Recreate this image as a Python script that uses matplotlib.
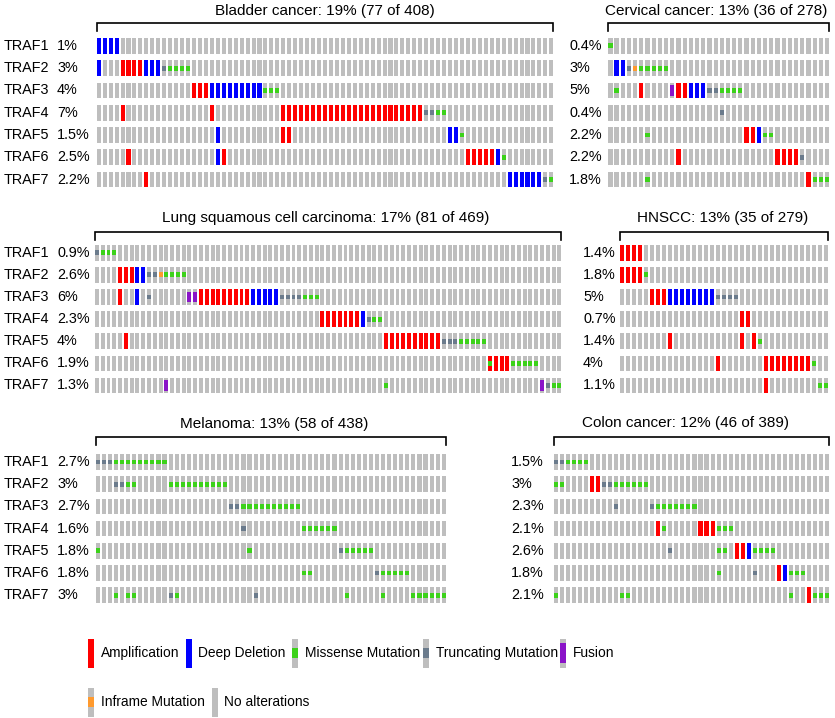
import numpy as np
import matplotlib.pyplot as plt
from matplotlib.patches import Rectangle

plt.rcParams['font.family'] = ['Liberation Sans', 'DejaVu Sans']

# figure size in pixels (dpi 100)
W, H = 835, 718

# --------------------------------------------------------------------------
# data: one list per panel, one entry per gene, runs of (first column, codes)
# codes: A amplification, D deep deletion, M missense, T truncating,
#        F fusion, I inframe, X amplification + missense
# --------------------------------------------------------------------------
genes = ['TRAF1', 'TRAF2', 'TRAF3', 'TRAF4', 'TRAF5', 'TRAF6', 'TRAF7']

bladder_title = 'Bladder cancer: 19% (77 of 408)'
bladder_n = 77
bladder_pct = ['1%', '3%', '4%', '7%', '1.5%', '2.5%', '2.2%']
bladder_alt = [
    [(0, 'DDDD')],
    [(0, 'D'), (4, 'AAAADDDTMMMM')],
    [(16, 'AAA' + 'D' * 9 + 'MMM')],
    [(4, 'A'), (19, 'A'), (31, 'A' * 24 + 'TTMM')],
    [(20, 'D'), (31, 'AA'), (59, 'DDM')],
    [(5, 'A'), (20, 'DA'), (62, 'AAAAADM')],
    [(8, 'A'), (69, 'DDDDDDTM')],
]

cervical_title = 'Cervical cancer: 13% (36 of 278)'
cervical_n = 36
cervical_pct = ['0.4%', '3%', '5%', '0.4%', '2.2%', '2.2%', '1.8%']
cervical_alt = [
    [(0, 'M')],
    [(1, 'DDTIMMMMM')],
    [(1, 'M'), (5, 'A'), (10, 'FAADDDTTMMMM')],
    [(18, 'T')],
    [(6, 'M'), (22, 'AADMM')],
    [(11, 'A'), (27, 'AAAAT')],
    [(6, 'M'), (32, 'AMMM')],
]

lung_title = 'Lung squamous cell carcinoma: 17% (81 of 469)'
lung_n = 81
lung_pct = ['0.9%', '2.6%', '6%', '2.3%', '4%', '1.9%', '1.3%']
lung_alt = [
    [(0, 'TMMM')],
    [(4, 'AAADDTTIMMMM')],
    [(4, 'A'), (7, 'D'), (9, 'T'), (16, 'FF' + 'A' * 9 + 'D' * 5 + 'TTTT' + 'MMM')],
    [(39, 'A' * 7 + 'DTMM')],
    [(5, 'A'), (50, 'A' * 10 + 'TTT' + 'M' * 5)],
    [(68, 'XAAA' + 'M' * 5)],
    [(12, 'F'), (50, 'M'), (77, 'FTMM')],
]

hnscc_title = 'HNSCC: 13% (35 of 279)'
hnscc_n = 35
hnscc_pct = ['1.4%', '1.8%', '5%', '0.7%', '1.4%', '4%', '1.1%']
hnscc_alt = [
    [(0, 'AAAA')],
    [(0, 'AAAAM')],
    [(5, 'AAA' + 'D' * 8 + 'TTTT')],
    [(20, 'AA')],
    [(8, 'A'), (20, 'A'), (22, 'AM')],
    [(16, 'A'), (24, 'A' * 8 + 'M')],
    [(24, 'A'), (33, 'MM')],
]

melanoma_title = 'Melanoma: 13% (58 of 438)'
melanoma_n = 58
melanoma_pct = ['2.7%', '3%', '2.7%', '1.6%', '1.8%', '1.8%', '3%']
melanoma_alt = [
    [(0, 'TTT' + 'M' * 9)],
    [(3, 'TTMM'), (12, 'M' * 10)],
    [(22, 'TT' + 'M' * 10)],
    [(24, 'T'), (34, 'M' * 6)],
    [(0, 'M'), (25, 'M'), (40, 'T' + 'M' * 5)],
    [(34, 'MM'), (46, 'T' + 'M' * 5)],
    [(3, 'M'), (5, 'MM'), (12, 'TM'), (26, 'T'), (41, 'M'), (47, 'M'), (52, 'M' * 6)],
]

colon_title = 'Colon cancer: 12% (46 of 389)'
colon_n = 46
colon_pct = ['1.5%', '3%', '2.3%', '2.1%', '2.6%', '1.8%', '2.1%']
colon_alt = [
    [(0, 'TTMMMM')],
    [(0, 'MM'), (6, 'AATT' + 'M' * 6)],
    [(10, 'T'), (16, 'T' + 'M' * 7)],
    [(17, 'AM'), (24, 'AAAMMM')],
    [(19, 'T'), (27, 'MM'), (30, 'AAD' + 'MMMM')],
    [(27, 'M'), (33, 'T'), (37, 'ADMMM')],
    [(0, 'M'), (11, 'MM'), (39, 'M'), (42, 'AMMM')],
]

legend_labels = ['Amplification', 'Deep Deletion', 'Missense Mutation',
                 'Truncating Mutation', 'Fusion', 'Inframe Mutation', 'No alterations']
legend_codes = ['A', 'D', 'M', 'T', 'F', 'I', '.']

# --------------------------------------------------------------------------
# style
# --------------------------------------------------------------------------
GRAY = '#BEBEBE'
full_color = {'A': '#FF0000', 'D': '#0000FF', 'X': '#FF0000'}
small_color = {'M': '#3CD21A', 'T': '#6B7B8C', 'I': '#FF9A2E', 'X': '#3CD21A'}
FUSION = '#8A14C8'

BW = 0.68      # bar width (fraction of column pitch)
BH = 0.70      # bar height (fraction of row pitch)
FS = 10.4

# panel geometry in pixels:
# first bar left edge, column pitch, TRAF1 row centre, row pitch,
# percent label x, show gene names, title centre x, title y, bracket y
panels = [
    (bladder_title, bladder_n, bladder_pct, bladder_alt, 96.7, 5.955, 45.8, 22.3, 57, True, 325, 11, 23),
    (cervical_title, cervical_n, cervical_pct, cervical_alt, 608.3, 6.19, 45.8, 22.3, 569, False, 716, 11, 23),
    (lung_title, lung_n, lung_pct, lung_alt, 95.0, 5.78, 252.8, 22.1, 57, True, 326, 218, 232),
    (hnscc_title, hnscc_n, hnscc_pct, hnscc_alt, 620.0, 6.01, 252.8, 22.1, 583, False, 723, 218, 232),
    (melanoma_title, melanoma_n, melanoma_pct, melanoma_alt, 95.7, 6.07, 462.0, 22.2, 57, True, 274, 424, 437),
    (colon_title, colon_n, colon_pct, colon_alt, 553.5, 6.04, 462.0, 22.2, 511, False, 686, 423, 437),
]


def draw_cell(ax, x, y, code, bw, bh):
    ax.add_patch(Rectangle((x - bw / 2, y - bh / 2), bw, bh,
                           color=full_color.get(code, GRAY), lw=0))
    if code == 'F':
        fh = bh * 0.66
        ax.add_patch(Rectangle((x - bw / 2, y - fh / 2), bw, fh, color=FUSION, lw=0))
    if code in small_color:
        sh = bh * 0.32
        ax.add_patch(Rectangle((x - bw / 2, y - sh / 2), bw, sh,
                               color=small_color[code], lw=0))


fig = plt.figure(figsize=(W / 100, H / 100), dpi=100)

# overlay axes in pixel units for text, brackets and legend
ov = fig.add_axes([0, 0, 1, 1])
ov.set_xlim(0, W)
ov.set_ylim(H, 0)
ov.axis('off')

for (title, n, pct, alt, x0, pitch, y0, rp, pct_x, show_genes,
     tx, ty, by) in panels:
    left_px = x0 - (0.5 - BW / 2) * pitch
    top_px = y0 - 0.5 * rp
    ax = fig.add_axes([left_px / W, 1 - (top_px + 7 * rp) / H,
                       n * pitch / W, 7 * rp / H])
    ax.set_xlim(-0.5, n - 0.5)
    ax.set_ylim(6.5, -0.5)
    ax.axis('off')

    for r, runs in enumerate(alt):
        codes = ['.'] * n
        for start, seg in runs:
            for k, c in enumerate(seg):
                codes[start + k] = c
        for i, c in enumerate(codes):
            draw_cell(ax, i, r, c, BW, BH)

        yc = y0 + r * rp
        if show_genes:
            ov.text(4, yc, genes[r], fontsize=FS, va='center', ha='left')
        ov.text(pct_x, yc, pct[r], fontsize=FS, va='center', ha='left')

    # title and bracket
    ov.text(tx, ty, title, fontsize=11, ha='center', va='center')
    x_end = x0 + (n - 1) * pitch + BW * pitch
    ov.plot([x0, x0, x_end, x_end], [by + 8, by, by, by + 8],
            color='black', lw=1.2, solid_joinstyle='miter')

# legend
leg_pos = [(88.3, 653), (185.7, 653), (292.3, 653), (423.3, 653), (560.0, 653),
           (88.3, 702), (211.7, 702)]
sw_w, sw_h = 6, 29
for (lx, ly), lab, code in zip(leg_pos, legend_labels, legend_codes):
    draw_cell(ov, lx + sw_w / 2, ly, code, sw_w, sw_h)
    ov.text(lx + 12.5, ly, lab, fontsize=9.9, ha='left', va='center')

fig.savefig('out.png', dpi=100)
